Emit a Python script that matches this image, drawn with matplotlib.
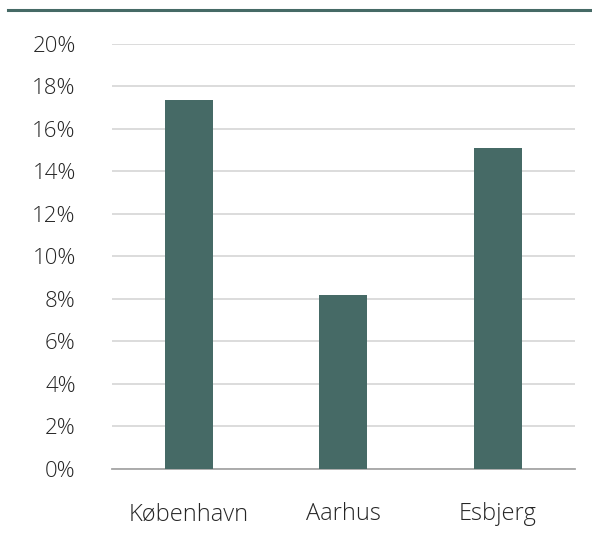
import matplotlib.pyplot as plt
from matplotlib.ticker import FuncFormatter
import matplotlib.lines as mlines

cities = ['København', 'Aarhus', 'Esbjerg']
shares = [17.35, 8.2, 15.1]
yticks = [0, 2, 4, 6, 8, 10, 12, 14, 16, 18, 20]

plt.rcParams['font.family'] = ['Open Sans', 'DejaVu Sans']
plt.rcParams['font.weight'] = 'light'

fig = plt.figure(figsize=(5.92, 5.36), dpi=100)
ax = fig.add_axes([0.189, 0.125, 0.782, 0.793])

ax.bar(range(len(cities)), shares, width=0.31, color='#466A66', zorder=3)

ax.set_ylim(0, 20)
ax.set_xlim(-0.5, 2.5)
ax.set_yticks(yticks)
ax.yaxis.set_major_formatter(FuncFormatter(lambda v, p: '%d%%' % v))
ax.set_xticks(range(len(cities)))
ax.set_xticklabels(cities)
ax.grid(axis='y', color='#D9D9D9', linewidth=1.3, zorder=0)
for s in ['top', 'right', 'left']:
    ax.spines[s].set_visible(False)
ax.spines['bottom'].set_color('#A6A6A6')
ax.spines['bottom'].set_linewidth(1.3)
ax.tick_params(axis='both', length=0, colors='#262626')
ax.tick_params(axis='y', pad=26, labelsize=16)
ax.tick_params(axis='x', pad=24, labelsize=17)
for lbl in ax.get_xticklabels() + ax.get_yticklabels():
    lbl.set_fontweight('light')

# dark rule at the top of the figure
fig.add_artist(mlines.Line2D([8 / 592, 1], [1 - 10 / 536, 1 - 10 / 536],
                             color='#466A66', linewidth=2.2))

plt.savefig('out.png', dpi=100)
